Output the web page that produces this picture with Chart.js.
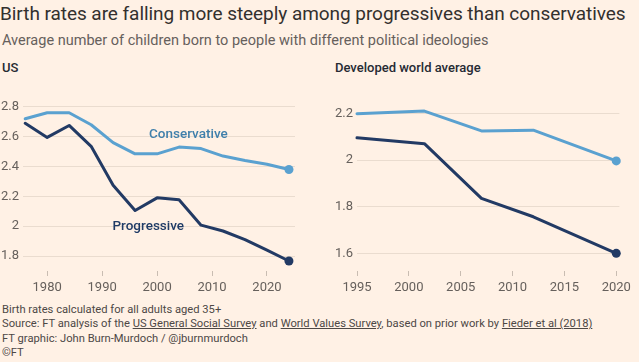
<!DOCTYPE html>
<html>
<head>
<meta charset="utf-8">
<script src="https://cdn.jsdelivr.net/npm/chart.js@4.4.1/dist/chart.umd.min.js"></script>
<style>
  html, body { margin: 0; padding: 0; }
  body {
    width: 639px; height: 362px; overflow: hidden; position: relative;
    background: #fff1e5; font-family: 'Roboto', sans-serif; color: #33302e;
  }
  .abs { position: absolute; white-space: nowrap; }
  #title { left: 0; top: 2px; font-size: 19px; line-height: 24px; letter-spacing: -0.05px; }
  #subtitle { left: 2px; top: 32px; font-size: 14.5px; line-height: 18px; color: #66605c; }
  .panel-title { top: 60px; font-size: 13px; font-weight: 500; line-height: 16px; color: #262a33; }
  #footer { left: 2px; top: 303px; font-size: 11.2px; line-height: 14.3px; color: #4d4845; }
  #footer u { text-decoration-thickness: 1px; text-underline-offset: 1px; }
  canvas { position: absolute; }
</style>
</head>
<body>
<div id="title" class="abs">Birth rates are falling more steeply among progressives than conservatives</div>
<div id="subtitle" class="abs">Average number of children born to people with different political ideologies</div>
<div class="abs panel-title" style="left:2px">US</div>
<div class="abs panel-title" style="left:335px">Developed world average</div>

<div style="position:absolute;left:0;top:95px;width:300px;height:201px"><canvas id="chart-us"></canvas></div>
<div style="position:absolute;left:325px;top:95px;width:310px;height:201px"><canvas id="chart-world"></canvas></div>

<div id="footer" class="abs">
  Birth rates calculated for all adults aged 35+<br>
  Source: FT analysis of the <u>US General Social Survey</u> and <u>World Values Survey</u>, based on prior work by <u>Fieder et al (2018)</u><br>
  FT graphic: John Burn-Murdoch / @jburnmurdoch<br>
  &copy;FT
</div>

<script>
// US (General Social Survey)
const usYears = [1976, 1980, 1984, 1988, 1992, 1996, 2000, 2004, 2008, 2012, 2016, 2020, 2024];
const usConservative = [2.72, 2.76, 2.76, 2.68, 2.56, 2.485, 2.485, 2.53, 2.52, 2.47, 2.44, 2.415, 2.38];
const usProgressive = [2.69, 2.595, 2.675, 2.535, 2.275, 2.105, 2.19, 2.178, 2.007, 1.968, 1.91, 1.84, 1.767];
const usXTicks = [1980, 1990, 2000, 2010, 2020];
const usYTicks = [1.8, 2, 2.2, 2.4, 2.6, 2.8];

// Developed world average (World Values Survey)
const worldYears = [1995, 2001.5, 2007, 2012, 2020];
const worldConservative = [2.2, 2.211, 2.126, 2.129, 1.997];
const worldProgressive = [2.096, 2.071, 1.836, 1.757, 1.6];
const worldXTicks = [1995, 2000, 2005, 2010, 2015, 2020];
const worldYTicks = [1.6, 1.8, 2, 2.2];

const seriesLabels = ['Conservative', 'Progressive'];

// ── FT theme ─────────────────────────────
const consColor = '#5aa1d0';
const progColor = '#223a64';
const gridColor = '#eadccf';
const tickColor = '#66605c';
const font = "'Roboto', sans-serif";

function toPoints(xs, ys) {
    return xs.map((x, i) => ({ x: x, y: ys[i] }));
}

function lineSet(label, xs, ys, color) {
    const last = ys.length - 1;
    return {
        label: label,
        data: toPoints(xs, ys),
        borderColor: color,
        backgroundColor: color,
        borderWidth: 3,
        pointRadius: ys.map((_, i) => (i === last ? 4.5 : 0)),
        pointBorderWidth: 0,
        pointHoverRadius: 0,
        borderJoinStyle: 'round',
        borderCapStyle: 'round',
        tension: 0,
        clip: false,
    };
}

// draws the in-chart series names at data coordinates
const inlineLabels = {
    id: 'inlineLabels',
    afterDatasetsDraw(chart, args, opts) {
        if (!opts.items) return;
        const ctx = chart.ctx;
        ctx.save();
        ctx.font = '500 13.5px ' + font;
        ctx.textAlign = 'center';
        ctx.textBaseline = 'middle';
        opts.items.forEach(it => {
            ctx.fillStyle = it.color;
            ctx.fillText(it.text, chart.scales.x.getPixelForValue(it.x), chart.scales.y.getPixelForValue(it.y));
        });
        ctx.restore();
    }
};

function makeChart(id, cfg) {
    return new Chart(document.getElementById(id), {
        type: 'line',
        data: {
            datasets: [
                lineSet(seriesLabels[0], cfg.years, cfg.cons, consColor),
                lineSet(seriesLabels[1], cfg.years, cfg.prog, progColor),
            ]
        },
        options: {
            responsive: true,
            maintainAspectRatio: false,
            animation: false,
            events: [],
            layout: { padding: cfg.padding },
            scales: {
                x: {
                    type: 'linear',
                    min: cfg.xMin,
                    max: cfg.xMax,
                    afterBuildTicks: s => { s.ticks = cfg.xTicks.map(v => ({ value: v })); },
                    afterFit: s => { s.height = 25; },
                    border: { display: false },
                    grid: { drawOnChartArea: false, drawTicks: true, tickLength: 5, tickColor: '#c9bdb2', lineWidth: 1 },
                    ticks: { color: tickColor, font: { family: font, size: 13 }, padding: 4, maxRotation: 0,
                             callback: v => String(v) },
                },
                y: {
                    min: cfg.yMin,
                    max: cfg.yMax,
                    afterBuildTicks: s => { s.ticks = cfg.yTicks.map(v => ({ value: v })); },
                    afterFit: s => { s.width = cfg.yWidth; },
                    border: { display: false },
                    grid: { color: gridColor, lineWidth: 1, drawTicks: false },
                    ticks: { color: tickColor, font: { family: font, size: 13 }, padding: 4,
                             callback: v => String(Math.round(v * 10) / 10) },
                },
            },
            plugins: {
                legend: { display: false },
                tooltip: { enabled: false },
                inlineLabels: { items: cfg.labels || [] },
            }
        },
        plugins: [inlineLabels]
    });
}

makeChart('chart-us', {
    years: usYears, cons: usConservative, prog: usProgressive,
    xMin: 1975.6, xMax: 2025.1, xTicks: usXTicks,
    yMin: 1.70, yMax: 2.8, yTicks: usYTicks, yWidth: 23,
    padding: { top: 8, right: 5, bottom: 0, left: 0 },
    labels: [
        { text: seriesLabels[0], x: 2005.7, y: 2.614, color: '#3f7fab' },
        { text: seriesLabels[1], x: 1998.4, y: 1.998, color: '#1f3b66' },
    ],
});

makeChart('chart-world', {
    years: worldYears, cons: worldConservative, prog: worldProgressive,
    xMin: 1995, xMax: 2020.3, xTicks: worldXTicks,
    yMin: 1.524, yMax: 2.22, yTicks: worldYTicks, yWidth: 32,
    padding: { top: 14, right: 10, bottom: 0, left: 0 },
});
</script>
</body>
</html>
